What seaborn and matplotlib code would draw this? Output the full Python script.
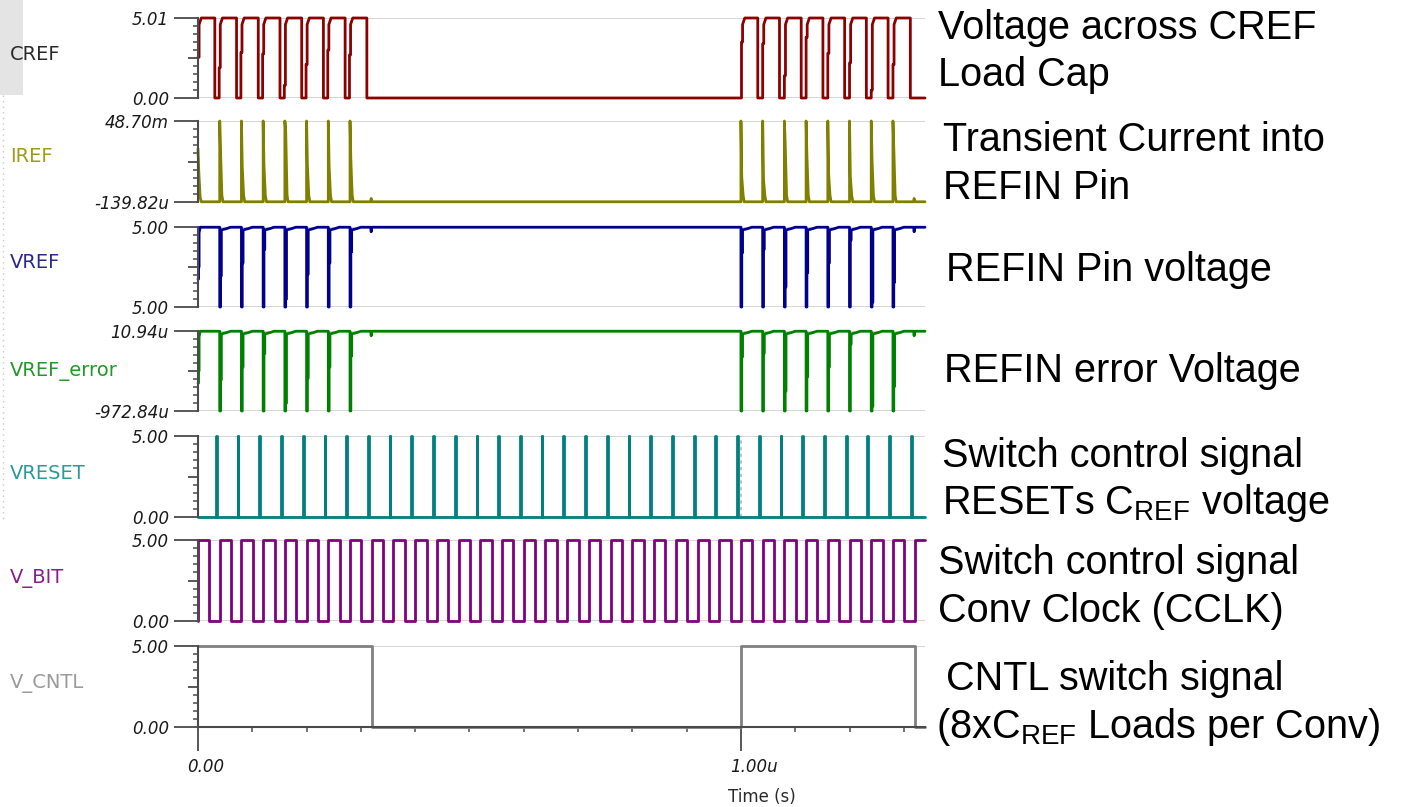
import numpy as np
import matplotlib
matplotlib.use("Agg")
import matplotlib.pyplot as plt
import matplotlib.transforms as mtransforms
from matplotlib.patches import Rectangle
from matplotlib.lines import Line2D
from matplotlib.ticker import FixedLocator, MultipleLocator
import seaborn as sns

sns.set_style("white")
plt.rcParams["font.family"] = ["DejaVu Sans"]

# ---- data (time in us) ----
t_end = 1.339

# CREF load cap voltage (V): one pulse per charge
cref_rise = [0.000, 0.039, 0.079, 0.119, 0.159, 0.199, 0.239, 0.279,
             1.001, 1.040, 1.080, 1.120, 1.160, 1.200, 1.240, 1.280]
cref_fall = [0.031, 0.071, 0.111, 0.151, 0.191, 0.231, 0.271, 0.311,
             1.031, 1.071, 1.111, 1.151, 1.191, 1.231, 1.271, 1.312]
cref_step = [2.55, 1.9, 2.85, 2.75, 0.8, 2.1, 3.0, 2.7,
             3.5, 3.4, 1.4, 3.8, 2.8, 2.2, 0.5, 2.1]
cref_top = 5.01

# IREF current spikes (mA)
iref_t = [0.000, 0.040, 0.080, 0.120, 0.160, 0.200, 0.240, 0.280,
          1.000, 1.040, 1.080, 1.120, 1.160, 1.200, 1.240, 1.280]
iref_peak = [32.0, 48.7, 48.7, 48.7, 48.7, 48.7, 48.7, 48.7,
             48.7, 48.7, 48.7, 48.7, 48.7, 48.7, 48.7, 48.7]
iref_tail = [0.55, 0.62, 0.44, 0.45, 0.89, 0.45, 0.44, 0.52,
             0.31, 0.28, 0.73, 0.57, 0.35, 0.31, 0.51, 0.67]
iref_blip_t = [0.318, 1.318]
iref_blip = 2.0

# REFIN error voltage (uV); VREF = 5 V + error
err_start = [(0.000, -630), (0.001, -630), (0.001, -480), (0.002, -480),
             (0.002, -60), (0.004, 8)]
err_dip_t = [0.040, 0.080, 0.120, 0.160, 0.200, 0.240, 0.280,
             1.000, 1.040, 1.080, 1.120, 1.160, 1.200, 1.240, 1.280]
err_stub = [-590, -432, -265, -875, -570, -432, -295,
            -305, -265, -727, -550, -432, -150, -914, -670]
err_min = -972.84
err_base = 8
err_blip_t = [0.318, 1.318]
err_blip = -48

# VRESET spikes (V)
vreset_t = [0.033, 0.073, 0.113, 0.153, 0.193, 0.233, 0.273, 0.313, 0.353,
            0.393, 0.433, 0.473, 0.513, 0.553, 0.593, 0.633, 0.673, 0.713,
            0.753, 0.793, 0.833, 0.873, 0.913, 0.953, 0.993, 1.033, 1.073,
            1.113, 1.153, 1.193, 1.233, 1.273, 1.313]
vreset_w = 0.0015

# V_BIT conversion clock (V)
vbit_rise = [0.00, 0.04, 0.08, 0.12, 0.16, 0.20, 0.24, 0.28, 0.32, 0.36,
             0.40, 0.44, 0.48, 0.52, 0.56, 0.60, 0.64, 0.68, 0.72, 0.76,
             0.80, 0.84, 0.88, 0.92, 0.96, 1.00, 1.04, 1.08, 1.12, 1.16,
             1.20, 1.24, 1.28, 1.32]
vbit_high = 0.021

# V_CNTL (V)
cntl_t = [0.00, 0.32, 0.32, 1.00, 1.00, 1.32, 1.32, t_end]
cntl_v = [5.0, 5.0, 0.0, 0.0, 5.0, 5.0, 0.0, 0.0]

names = ["CREF", "IREF", "VREF", "VREF_error", "VRESET", "V_BIT", "V_CNTL"]
line_colors = ["#8b0000", "#808000", "#00008b", "#008000", "#008080", "#800080", "#808080"]
name_colors = ["#2a2a2a", "#9c9c18", "#2a2a8c", "#22982a", "#2a9a9a", "#8c1c8c", "#9a9a9a"]
name_y = [0.54, 0.56, 0.56, 0.49, 0.54, 0.53, 0.54]
ylims = [(0.0, 5.01), (-0.13982, 48.70), (5.0 - 972.84e-6, 5.0 + 10.94e-6),
         (-972.84, 10.94), (0.0, 5.0), (0.0, 5.0), (0.0, 5.0)]
ylabels = [("0.00", "5.01"), ("-139.82u", "48.70m"), ("5.00", "5.00"),
           ("-972.84u", "10.94u"), ("0.00", "5.00"), ("0.00", "5.00"), ("0.00", "5.00")]

notes = [
    (938, 39, "Voltage across CREF"), (938, 86, "Load Cap"),
    (943, 151, "Transient Current into"), (943, 199, "REFIN Pin"),
    (946, 281, "REFIN Pin voltage"),
    (944, 382, "REFIN error Voltage"),
    (942, 467, "Switch control signal"), (942, 514, r"RESETs C$_\mathregular{REF}$ voltage"),
    (938, 574, "Switch control signal"), (938, 622, "Conv Clock (CCLK)"),
    (946, 690, "CNTL switch signal"), (936, 738, r"(8xC$_\mathregular{REF}$ Loads per Conv)"),
]


def cut(pts):
    out = [(t, v) for t, v in pts if t <= t_end]
    if out[-1][0] < t_end:
        out.append((t_end, out[-1][1]))
    return np.array(out, dtype=float)


# build the waveforms
cref = []
for r, f, s in zip(cref_rise, cref_fall, cref_step):
    if r > 0:
        cref.append((r, 0.0))
    cref += [(r, s), (r + 0.002, s), (r + 0.002, 4.6), (r + 0.006, cref_top),
             (f, cref_top), (f, 0.0)]
cref = cut(cref)

iref = []
for t, p, k in zip(iref_t, iref_peak, iref_tail):
    if t > 0:
        iref.append((t, 0.0))
    iref += [(t, p), (t + 0.0015, p * k), (t + 0.004, p * 0.08), (t + 0.006, 0.0)]
    if t in (0.28, 1.28):
        bt = iref_blip_t[0] if t < 1 else iref_blip_t[1]
        iref += [(bt, 0.0), (bt + 0.001, iref_blip), (bt + 0.002, 0.0)]
iref = cut(iref)

err = list(err_start)
for t, s in zip(err_dip_t, err_stub):
    err += [(t, err_base), (t, err_min), (t + 0.0015, err_min), (t + 0.0015, s),
            (t + 0.003, s), (t + 0.003, -25), (t + 0.012, -10), (t + 0.02, err_base)]
    if t in (0.28, 1.28):
        bt = err_blip_t[0] if t < 1 else err_blip_t[1]
        err += [(bt, err_base), (bt + 0.001, err_blip), (bt + 0.002, err_base)]
err = cut(err)
vref = err.copy()
vref[:, 1] = 5.0 + err[:, 1] * 1e-6

vreset = [(0.0, 0.0)]
for t in vreset_t:
    vreset += [(t, 0.0), (t, 5.0), (t + vreset_w, 5.0), (t + vreset_w, 0.0)]
vreset = cut(vreset)

vbit = []
for r in vbit_rise:
    vbit += [(r, 0.0), (r, 5.0), (r + vbit_high, 5.0), (r + vbit_high, 0.0)]
vbit = cut(vbit)

cntl = np.column_stack([cntl_t, cntl_v])

waves = [cref, iref, vref, err, vreset, vbit, cntl]

# ---- figure ----
W, H = 1401, 807
fig = plt.figure(figsize=(W / 100, H / 100), dpi=100)
x0, x1 = 198, 925
panel_top = [18, 121, 227, 331, 436, 540, 646]
panel_bot = [98, 202, 307, 411, 517, 621, 727]
axc = "#4a4a4a"

# leftover window chrome at the top-left corner (behind everything)
fig.add_artist(Rectangle((0, 1 - 95 / H), 23 / W, 95 / H, transform=fig.transFigure,
                         facecolor="#e4e4e4", edgecolor="none", zorder=-5))
fig.add_artist(Line2D([3 / W, 3 / W], [1 - 95 / H, 1 - 520 / H], transform=fig.transFigure,
                      color="#c8c8c8", lw=1, ls=(0, (1, 3)), zorder=-5))

for i, name in enumerate(names):
    top, bot = panel_top[i], panel_bot[i]
    ax = fig.add_axes([x0 / W, 1 - bot / H, (x1 - x0) / W, (bot - top) / H])
    ax.patch.set_alpha(0)
    n0 = len(ax.lines)
    sns.lineplot(x=waves[i][:, 0], y=waves[i][:, 1], ax=ax, color=line_colors[i],
                 linewidth=2, estimator=None, sort=False)
    for ln in ax.lines[n0:]:
        ln.set_clip_on(False)

    lo, hi = ylims[i]
    ax.set_xlim(0, t_end)
    ax.set_ylim(lo, hi)
    ax.axhline(lo, color="#d2d2d2", lw=1.3, zorder=0)
    ax.axhline(hi, color="#d2d2d2", lw=1.3, zorder=0)
    if name == "VRESET":
        ax.axvline(1.0, color="#b5b5b5", lw=1.2, ls=(0, (2, 2)), zorder=0)

    for s in ["top", "right"]:
        ax.spines[s].set_visible(False)
    ax.spines["left"].set_color(axc)
    ax.spines["left"].set_linewidth(1.5)

    ax.yaxis.set_major_locator(FixedLocator([lo, (lo + hi) / 2, hi]))
    ax.yaxis.set_minor_locator(FixedLocator(np.linspace(lo, hi, 11)))
    ax.tick_params(axis="y", which="major", left=True, direction="out", length=17, width=1.3,
                   color=axc, pad=4, labelsize=12, labelcolor="#1a1a1a")
    ax.tick_params(axis="y", which="minor", left=True, direction="out", length=3.6,
                   width=1.1, color=axc)
    ax.set_yticklabels([ylabels[i][0], "", ylabels[i][1]])
    plt.setp(ax.get_yticklabels(), fontstyle="italic")
    ax.yaxis.get_major_ticks()[1].tick1line.set_markersize(7)

    ax.set_xlabel("")
    ax.set_ylabel("")
    if i < len(names) - 1:
        ax.spines["bottom"].set_visible(False)
        ax.tick_params(axis="x", which="both", bottom=False, labelbottom=False)
    else:
        ax.spines["bottom"].set_color(axc)
        ax.spines["bottom"].set_linewidth(1.5)
        ax.xaxis.set_major_locator(FixedLocator([0.0, 1.0]))
        ax.xaxis.set_minor_locator(MultipleLocator(0.1))
        ax.tick_params(axis="x", which="major", bottom=True, direction="out", length=17,
                       width=1.3, color=axc, pad=5, labelsize=12, labelcolor="#1a1a1a")
        ax.tick_params(axis="x", which="minor", bottom=True, direction="out", length=3.6,
                       width=1.1, color=axc)
        ax.set_xticklabels(["0.00", "1.00u"])
        shift = mtransforms.ScaledTranslation(-11 / 100, 0, fig.dpi_scale_trans)
        for lab in ax.get_xticklabels():
            lab.set_fontstyle("italic")
            lab.set_ha("left")
            lab.set_transform(lab.get_transform() + shift)
        ax.set_xlabel("Time (s)", fontsize=12, color="#2a2a2a")
        ax.xaxis.set_label_coords(0.776, -0.75)

    tr = mtransforms.blended_transform_factory(fig.transFigure, ax.transAxes)
    ax.text(10 / W, name_y[i], name, transform=tr, ha="left", va="center",
            fontsize=14, color=name_colors[i])

# notes on the right
for x, y, txt in notes:
    fig.text(x / W, 1 - y / H, txt, ha="left", va="baseline", fontsize=28.5,
             family="Liberation Sans", color="black")

fig.savefig("out.png", dpi=100)
